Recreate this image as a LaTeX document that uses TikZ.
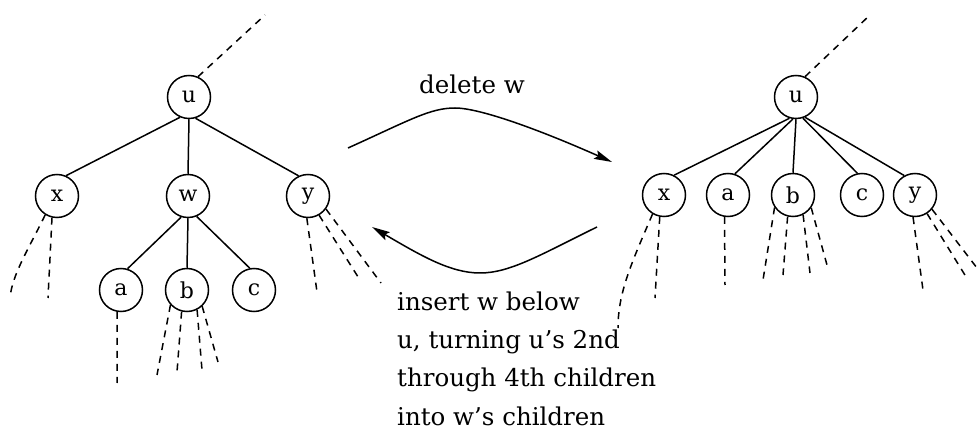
\documentclass[tikz,border=0pt]{standalone}
\usepackage{fontspec}
\setmainfont{DejaVu Serif}
\usetikzlibrary{arrows.meta}
\begin{document}
\begin{tikzpicture}[x=1pt,y=-1pt,
  vertex/.style={circle,draw,line width=1.5pt,minimum size=43pt,inner sep=0pt,
    font=\fontsize{22}{26}\selectfont},
  edge/.style={line width=1.5pt},
  stub/.style={line width=1.5pt,dash pattern=on 7pt off 6pt},
  move/.style={line width=1.5pt,-{Stealth[length=18pt,width=9pt,inset=3pt]}},
  note/.style={font=\fontsize{24.5}{38.3}\selectfont,inner sep=0pt}]
\useasboundingbox (0,0) rectangle (978,430);

% ---------- tree before the deletion ----------
\node[vertex] (uL) at (189,97)  {u};
\node[vertex] (xL) at (57,196)  {x};
\node[vertex] (wL) at (188,196) {w};
\node[vertex] (yL) at (308,196) {y};
\node[vertex] (aL) at (121,290) {a};
\node[vertex] (bL) at (187,290) {b};
\node[vertex] (cL) at (254,290) {c};

\draw[edge] (uL.246) -- (xL.66);
\draw[edge] (uL.south) -- (wL.north);
\draw[edge] (uL.287) -- (yL.115);
\draw[edge] (wL.252) -- (aL.73);
\draw[edge] (wL.south) -- (bL.north);
\draw[edge] (wL.293) -- (cL.101);

% parent link and subtrees
\coordinate (pL) at (265,15);
\draw[stub] (uL.66) -- (pL);

\coordinate (xL1) at (10,298);
\coordinate (xL2) at (48,298);
\draw[stub] (xL.238) .. controls (28,250) and (12,275) .. (xL1);
\draw[stub] (xL.257) -- (xL2);

\coordinate (aL1) at (117,383);
\draw[stub] (aL.260) -- (aL1);

\coordinate (bL1) at (157,375);
\coordinate (bL2) at (177,372);
\coordinate (bL3) at (202,370);
\coordinate (bL4) at (218,362);
\draw[stub] (bL.222) -- (bL1);
\draw[stub] (bL.256) -- (bL2);
\draw[stub] (bL.297) -- (bL3);
\draw[stub] (bL.313) -- (bL4);

\coordinate (yL1) at (317,292);
\coordinate (yL2) at (360,280);
\coordinate (yL3) at (381,283);
\draw[stub] (yL.267) -- (yL1);
\draw[stub] (yL.300) -- (yL2);
\draw[stub] (yL.324) -- (yL3);

% ---------- tree after the deletion ----------
\node[vertex] (uR) at (796,97)  {u};
\node[vertex] (xR) at (664,195) {x};
\node[vertex] (aR) at (728,195) {a};
\node[vertex] (bR) at (793,195) {b};
\node[vertex] (cR) at (862,195) {c};
\node[vertex] (yR) at (915,195) {y};

\draw[edge] (uR.253) -- (xR.63);
\draw[edge] (uR.262) -- (aR.72);
\draw[edge] (uR.south) -- (bR.north);
\draw[edge] (uR.288) -- (cR.102);
\draw[edge] (uR.294) -- (yR.119);

\coordinate (pR) at (870,15);
\draw[stub] (uR.66) -- (pR);

\coordinate (xR1) at (618,328);
\coordinate (xR2) at (655,298);
\draw[stub] (xR.239) .. controls (632,262) and (618,292) .. (xR1);
\draw[stub] (xR.259) -- (xR2);

\coordinate (aR1) at (725,285);
\draw[stub] (aR.261) -- (aR1);

\coordinate (bR1) at (763,280);
\coordinate (bR2) at (783,275);
\coordinate (bR3) at (810,273);
\coordinate (bR4) at (827,265);
\draw[stub] (bR.214) -- (bR1);
\draw[stub] (bR.256) -- (bR2);
\draw[stub] (bR.297) -- (bR3);
\draw[stub] (bR.325) -- (bR4);

\coordinate (yR1) at (923,290);
\coordinate (yR2) at (968,280);
\coordinate (yR3) at (977,268);
\draw[stub] (yR.265) -- (yR1);
\draw[stub] (yR.303) -- (yR2);
\draw[stub] (yR.320) -- (yR3);

% ---------- transformations ----------
\coordinate (d1) at (348,148);
\coordinate (d2) at (612,162);
\draw[move] (d1) .. controls (410,120) and (430,108) .. (455,108)
                 .. controls (480,108) and (540,130) .. (d2);

\coordinate (i1) at (597,227);
\coordinate (i2) at (372,227);
\draw[move] (i1) .. controls (540,255) and (510,273) .. (480,273)
                 .. controls (450,273) and (420,255) .. (i2);

\node[note] (del) at (472,84) {delete w};
% the base anchor of this block sits on its last line
\node[note,anchor=base west,align=left] (ins) at (397,425)
  {insert w below\\u, turning u's 2nd\\through 4th children\\into w's children};
\end{tikzpicture}
\end{document}
